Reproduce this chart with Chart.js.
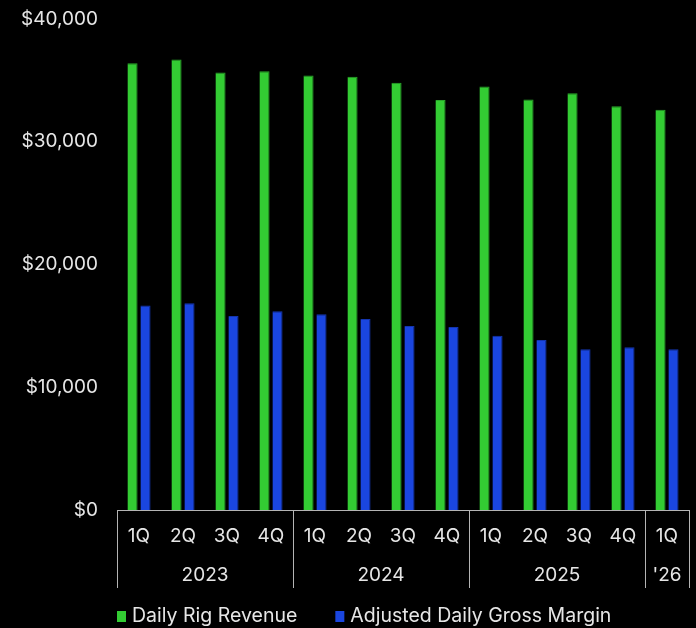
<!DOCTYPE html>
<html>
<head>
<meta charset="utf-8">
<script src="https://cdn.jsdelivr.net/npm/chart.js@4"></script>
<style>
  html, body { margin: 0; padding: 0; background: #000; }
  #wrap { width: 696px; height: 628px; position: relative; }
</style>
</head>
<body>
<div id="wrap"><canvas id="myChart"></canvas></div>
<script>
// quarters and the year each group belongs to
var quarters = ["1Q", "2Q", "3Q", "4Q", "1Q", "2Q", "3Q", "4Q", "1Q", "2Q", "3Q", "4Q", "1Q"];
var years = ["2023", "2024", "2025", "'26"];
var yearSizes = [4, 4, 4, 1];

var rigRevenue = [36400, 36700, 35650, 35750, 35400, 35300, 34800, 33400, 34500, 33450, 33950, 32900, 32600];
var grossMargin = [16650, 16850, 15800, 16200, 15950, 15550, 15000, 14900, 14200, 13850, 13100, 13250, 13100];

var greenColor = "#33cc33";
var blueColor = "#1a46e0";
var lineColor = "#b4b4b4";
var textColor = "#e6e6e6";
var font = "Inter";

// year groups + divider lines under the x axis
var groupAxis = {
    id: "groupAxis",
    afterDraw: function(chart) {
        var ctx = chart.ctx
        var x = chart.scales.x
        var area = chart.chartArea
        var half = (x.getPixelForValue(1) - x.getPixelForValue(0)) / 2
        var bottom = area.bottom + 78
        ctx.save()
        ctx.strokeStyle = lineColor
        ctx.lineWidth = 1
        ctx.beginPath()
        ctx.moveTo(area.left, area.bottom + 0.5)
        ctx.lineTo(area.right, area.bottom + 0.5)
        ctx.stroke()

        var start = 0
        for (var i = 0; i <= years.length; i++) {
            var px
            if (i == years.length) {
                px = x.getPixelForValue(quarters.length - 1) + half
            } else {
                px = x.getPixelForValue(start) - half
            }
            px = Math.round(px) + 0.5
            ctx.beginPath()
            ctx.moveTo(px, area.bottom)
            ctx.lineTo(px, bottom)
            ctx.stroke()
            if (i < years.length) start += yearSizes[i]
        }

        ctx.fillStyle = textColor
        ctx.font = "19px " + font
        ctx.textAlign = "center"
        ctx.textBaseline = "middle"
        start = 0
        for (var j = 0; j < years.length; j++) {
            var a = x.getPixelForValue(start) - half
            var b = x.getPixelForValue(start + yearSizes[j] - 1) + half
            ctx.fillText(years[j], (a + b) / 2, area.bottom + 65)
            start += yearSizes[j]
        }

        // legend
        var legendY = 616
        var lx = area.left
        ctx.font = "19.5px " + font
        chart.data.datasets.forEach(function(ds, k) {
            ctx.fillStyle = ds.backgroundColor
            ctx.fillRect(lx, legendY - 5, 9, 11)
            ctx.fillStyle = textColor
            ctx.textAlign = "left"
            ctx.fillText(ds.label, lx + 15, legendY)
            lx += 15 + ctx.measureText(ds.label).width + 38
        })
        ctx.restore()
    }
}

new Chart("myChart", {
    type: "bar",
    data: {
        labels: quarters,
        datasets: [{
            label: "Daily Rig Revenue",
            data: rigRevenue,
            backgroundColor: greenColor,
            borderColor: "#2aa82a",
            borderWidth: { top: 1, right: 1, left: 0, bottom: 0 },
            categoryPercentage: 0.59,
            barPercentage: 0.78
        }, {
            label: "Adjusted Daily Gross Margin",
            data: grossMargin,
            backgroundColor: blueColor,
            borderColor: "#1435b0",
            borderWidth: { top: 1, right: 1, left: 0, bottom: 0 },
            categoryPercentage: 0.59,
            barPercentage: 0.78
        }]
    },
    options: {
        responsive: true,
        maintainAspectRatio: false,
        animation: false,
        layout: { padding: { top: 19, right: 7, left: 0, bottom: 0 } },
        plugins: {
            legend: { display: false },
            tooltip: { enabled: false }
        },
        scales: {
            x: {
                grid: { display: false, drawTicks: false },
                border: { display: false },
                ticks: {
                    color: textColor,
                    font: { family: font, size: 19 },
                    padding: 15,
                    maxRotation: 0,
                    autoSkip: false
                },
                afterFit: function(s) { s.height = 118 }
            },
            y: {
                min: 0,
                max: 40000,
                grid: { display: false, drawTicks: false },
                border: { display: false },
                ticks: {
                    stepSize: 10000,
                    color: textColor,
                    font: { family: font, size: 19 },
                    padding: 19,
                    callback: function(v) { return "$" + v.toLocaleString("en-US") }
                },
                afterFit: function(s) {
                    s.width = 117
                    s.paddingTop = 0
                    s.paddingBottom = 0
                }
            }
        }
    },
    plugins: [groupAxis]
});
</script>
</body>
</html>
